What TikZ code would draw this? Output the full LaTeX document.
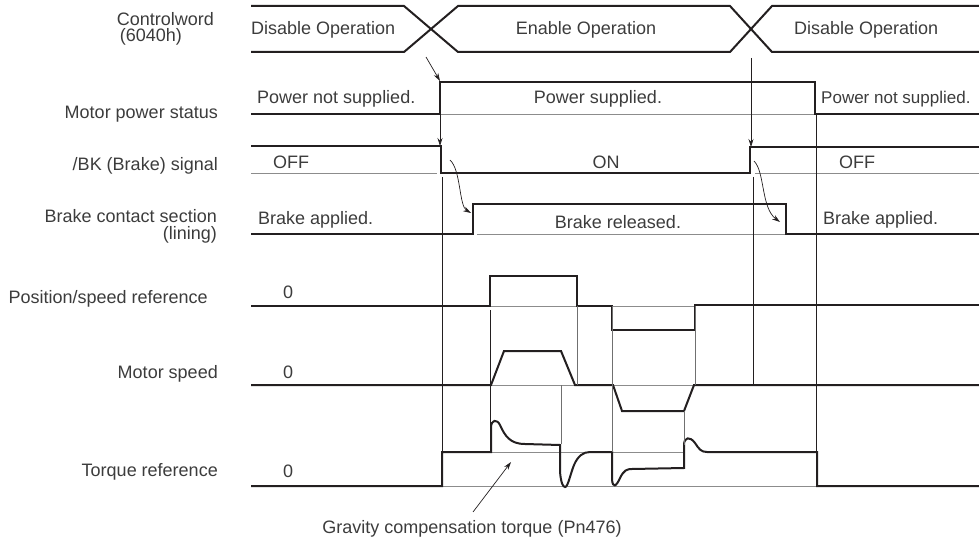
\documentclass[tikz,border=0pt]{standalone}
\usepackage{fontspec}
\setmainfont{Liberation Sans}
\usepackage{xcolor}
\definecolor{ink}{HTML}{231F20}
\definecolor{textgray}{HTML}{3C3C3C}
\definecolor{zerogray}{HTML}{8C8C8C}
\definecolor{guidegray}{HTML}{707070}
\usetikzlibrary{arrows.meta}
\newcommand\lblfont{\fontsize{18}{20}\selectfont}

\begin{document}
\begin{tikzpicture}[
  x=1pt, y=-1pt,
  signal/.style={ink, line width=2pt, line join=miter},
  zeroline/.style={zerogray, line width=0.9pt},
  guide/.style={ink, line width=0.7pt},
  guidelight/.style={guidegray, line width=0.7pt},
  arr/.style={-{Stealth[length=8pt, width=5pt]}, ink, line width=0.7pt},
  rowlabel/.style={font=\lblfont, text=textgray, inner sep=0pt, anchor=base east, align=right},
  statelabel/.style={font=\lblfont, text=textgray, inner sep=0pt, anchor=base west},
  midlabel/.style={font=\lblfont, text=textgray, inner sep=0pt, anchor=base},
]
\useasboundingbox (0,0) rectangle (979,540);

% Row titles
\node[rowlabel, font=\fontsize{18}{16.5}\selectfont] (tcw) at (214,42) {Controlword\\(6040h)\hspace*{32pt}};
\node[rowlabel] (tpwr) at (218,119) {Motor power status};
\node[rowlabel] (tbk) at (218,171) {/BK (Brake) signal};
\node[rowlabel, font=\fontsize{18}{17}\selectfont] (tbrk) at (217,239) {Brake contact section\\(lining)};
\node[rowlabel] (tref) at (208,303) {Position/speed reference};
\node[rowlabel] (tspd) at (218,378) {Motor speed};
\node[rowlabel] (ttrq) at (218,476) {Torque reference};

% Controlword bus
\draw[signal] (251,6) -- (404,6) -- (458,52) -- (730,52) -- (772,6) -- (979,6);
\draw[signal] (251,52) -- (404,52) -- (458,6) -- (730,6) -- (772,52) -- (979,52);
\node[statelabel] (cwoff1) at (251,35) {Disable Operation};
\node[midlabel] (cwon) at (586,35) {Enable Operation};
\node[statelabel] (cwoff2) at (794,35) {Disable Operation};

% Motor power status
\draw[zeroline] (440,114) -- (815,114);
\draw[signal] (251,114) -- (440,114) -- (440,82) -- (815,82) -- (815,114) -- (979,114);
\node[statelabel] (pwroff1) at (257,104) {Power not supplied.};
\node[midlabel] (pwron) at (598,103.5) {Power supplied.};
\node[statelabel, font=\fontsize{17}{20}\selectfont] (pwroff2) at (821,103.5) {Power not supplied.};

% /BK signal
\draw[zeroline] (251,173) -- (437,173);
\draw[zeroline] (755,173) -- (979,173);
\draw[signal] (251,146) -- (441,146) -- (441,173) -- (750,173) -- (750,147) -- (979,147);
\node[statelabel] (bkoff1) at (273,168) {OFF};
\node[midlabel] (bkon) at (606,168) {ON};
\node[statelabel] (bkoff2) at (839,168) {OFF};

% Brake contact section
\draw[zeroline] (477,234) -- (786,234);
\draw[signal] (251,234) -- (473,234) -- (473,204) -- (786,204) -- (786,234) -- (979,234);
\node[statelabel] (brkon1) at (258,224) {Brake applied.};
\node[midlabel] (brkoff) at (618,228) {Brake released.};
\node[statelabel] (brkon2) at (823,224) {Brake applied.};

% Position/speed reference
\draw[zeroline] (490,306) -- (577,306);
\draw[zeroline] (612,306) -- (695,306);
\draw[signal] (251,306) -- (490,306) -- (490,276) -- (577,276) -- (577,306) -- (612,306)
  -- (612,330) -- (695,330) -- (695,305) -- (979,305);
\node[statelabel] (refzero) at (283,298) {0};

% Motor speed
\draw[zeroline] (491,385) -- (694,385);
\draw[signal] (251,385) -- (491,385) -- (504,351) -- (561,351) -- (575,385) -- (613,385)
  -- (622,411) -- (684,411) -- (694,385) -- (979,385);
\node[statelabel] (spdzero) at (283,378) {0};

% Torque reference
\draw[zeroline] (442,486) -- (817,486);
\draw[zeroline] (491,452) -- (684,452);
\draw[signal] (251,486) -- (442,486) -- (442,452) -- (491,452) -- (491,428)
  .. controls (491,419) and (497,419) .. (500,425)
  .. controls (505,436) and (510,444) .. (525,444)
  -- (560,445) -- (560,472)
  .. controls (561,483) and (563,487) .. (565,487)
  .. controls (568,487) and (570,475) .. (574,465)
  .. controls (578,456) and (583,452) .. (590,452)
  -- (612,452) -- (612,480)
  .. controls (613,488) and (616,487) .. (620,478)
  .. controls (624,470) and (627,469) .. (632,469)
  -- (684,468) -- (684,445)
  .. controls (684,437) and (690,436) .. (695,443)
  .. controls (699,449) and (701,452) .. (707,452)
  -- (817,452) -- (817,486) -- (979,486);
\node[statelabel] (trqzero) at (283,477) {0};

% Timing guides
\draw[guide] (442,177) -- (442,452);
\draw[guide] (753,177) -- (753,385);
\draw[guide] (816,114) -- (816,452);
\draw[guide] (490,310) -- (490,452);
\draw[guidelight] (577,306) -- (577,385);
\draw[guidelight] (561,385) -- (561,444);
\draw[guidelight] (612,306) -- (612,452);
\draw[guidelight] (684,411) -- (684,445);
\draw[guidelight] (695,306) -- (695,385);

% Causal arrows
\coordinate (cwx1) at (426,57);
\coordinate (pwrup) at (440,81);
\coordinate (pwrlow) at (440,115);
\coordinate (bkdown) at (440,146);
\coordinate (cwx2) at (751,58);
\coordinate (bkup) at (751,147);
\coordinate (bkc1) at (450,160);
\coordinate (brkup) at (471,213);
\coordinate (bkc2) at (754,161);
\coordinate (brkdown) at (780,222);
\draw[arr] (cwx1) -- (pwrup);
\draw[arr] (pwrlow) -- (bkdown);
\draw[arr] (cwx2) -- (bkup);
\draw[arr] (bkc1) .. controls (461,170) and (459,206) .. (brkup);
\draw[arr] (bkc2) .. controls (765,172) and (761,208) .. (brkdown);

% Gravity compensation note
\node[midlabel] (gravnote) at (472,533) {Gravity compensation torque (Pn476)};
\coordinate (gravtail) at (473,512);
\coordinate (gravtip) at (511,462);
\draw[arr] (gravtail) -- (gravtip);

\end{tikzpicture}
\end{document}
